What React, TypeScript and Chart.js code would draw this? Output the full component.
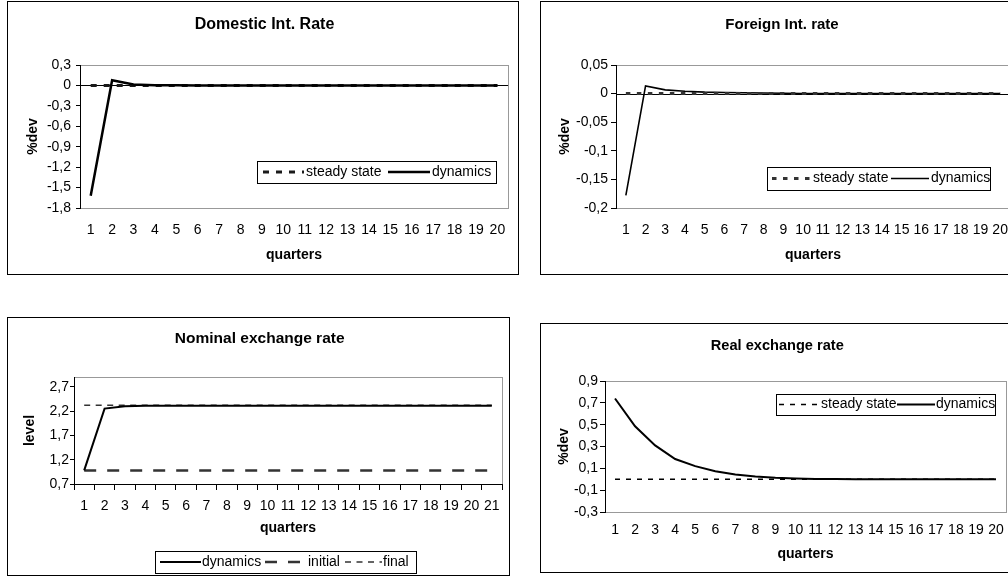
import React, { useEffect, useRef } from 'react';
import { Chart, registerables } from 'chart.js';

Chart.register(...registerables);

const FONT = '"Liberation Sans", Arial, Helvetica, sans-serif';

// ---------- data ----------
const QUARTERS_20 = ['1', '2', '3', '4', '5', '6', '7', '8', '9', '10', '11', '12', '13', '14', '15', '16', '17', '18', '19', '20'];
const QUARTERS_21 = ['1', '2', '3', '4', '5', '6', '7', '8', '9', '10', '11', '12', '13', '14', '15', '16', '17', '18', '19', '20', '21'];

const DOM_STEADY = [0, 0, 0, 0, 0, 0, 0, 0, 0, 0, 0, 0, 0, 0, 0, 0, 0, 0, 0, 0];
const DOM_DYNAMICS = [-1.62, 0.075, 0.015, 0.004, 0.001, 0, 0, 0, 0, 0, 0, 0, 0, 0, 0, 0, 0, 0, 0, 0];
const DOM_Y_TICKS = [-1.8, -1.5, -1.2, -0.9, -0.6, -0.3, 0, 0.3];
const DOM_Y_LABELS = ['-1,8', '-1,5', '-1,2', '-0,9', '-0,6', '-0,3', '0', '0,3'];

const FOR_STEADY = [0, 0, 0, 0, 0, 0, 0, 0, 0, 0, 0, 0, 0, 0, 0, 0, 0, 0, 0, 0];
const FOR_DYNAMICS = [-0.178, 0.0135, 0.0065, 0.004, 0.0025, 0.002, 0.0015, 0.001, 0.0005, 0.0003, 0, 0, 0, 0, 0, 0, 0, 0, 0, 0];
const FOR_Y_TICKS = [-0.2, -0.15, -0.1, -0.05, 0, 0.05];
const FOR_Y_LABELS = ['-0,2', '-0,15', '-0,1', '-0,05', '0', '0,05'];

const NOM_DYNAMICS = [0.98, 2.25, 2.3, 2.31, 2.31, 2.31, 2.31, 2.31, 2.31, 2.31, 2.31, 2.31, 2.31, 2.31, 2.31, 2.31, 2.31, 2.31, 2.31, 2.31, 2.31];
const NOM_INITIAL = [0.98, 0.98, 0.98, 0.98, 0.98, 0.98, 0.98, 0.98, 0.98, 0.98, 0.98, 0.98, 0.98, 0.98, 0.98, 0.98, 0.98, 0.98, 0.98, 0.98, 0.98];
const NOM_FINAL = [2.32, 2.32, 2.32, 2.32, 2.32, 2.32, 2.32, 2.32, 2.32, 2.32, 2.32, 2.32, 2.32, 2.32, 2.32, 2.32, 2.32, 2.32, 2.32, 2.32, 2.32];
const NOM_Y_TICKS = [0.7, 1.2, 1.7, 2.2, 2.7];
const NOM_Y_LABELS = ['0,7', '1,2', '1,7', '2,2', '2,7'];

const REAL_STEADY = [0, 0, 0, 0, 0, 0, 0, 0, 0, 0, 0, 0, 0, 0, 0, 0, 0, 0, 0, 0];
const REAL_DYNAMICS = [0.74, 0.485, 0.31, 0.185, 0.12, 0.074, 0.043, 0.025, 0.013, 0.007, 0.003, 0.002, 0.001, 0, 0, 0, 0, 0, 0, 0];
const REAL_Y_TICKS = [-0.3, -0.1, 0.1, 0.3, 0.5, 0.7, 0.9];
const REAL_Y_LABELS = ['-0,3', '-0,1', '0,1', '0,3', '0,5', '0,7', '0,9'];

// ---------- panel layout specs ----------
type LegendItem = { ds: number; x1: number; x2: number; tx: number };
type Spec = {
  key: string;
  box: [number, number, number, number];
  labels: string[];
  datasets: any[];
  yMin: number; yMax: number; yTicks: number[]; yLabels: string[]; yTitle: string;
  yW: number; padRight: number; padTop: number; xH: number;
  yTickLen: number; yTickPad: number; yTitlePad: number;
  xAxisBlack: boolean; xTickLen: number; xTickPad: number; xTitlePad: number;
  zeroLine: boolean;
  title: string; titleSize: number; titleX: number; titleY: number;
  legend: { box: [number, number, number, number]; cy: number; items: LegendItem[] };
};

const line = (label: string, data: number[], color: string, width: number, dash: number[] = [], order = 0) => ({
  label, data, borderColor: color, backgroundColor: color, borderWidth: width, borderDash: dash,
  pointRadius: 0, tension: 0, fill: false, order,
});

const SPECS: Spec[] = [
  {
    key: 'dom',
    box: [7, 1, 512, 274],
    labels: QUARTERS_20,
    datasets: [
      line('steady state', DOM_STEADY, '#1a1a1a', 3, [6, 7], 1),
      line('dynamics', DOM_DYNAMICS, '#000', 2.5, [], 0),
    ],
    yMin: -1.8, yMax: 0.3, yTicks: DOM_Y_TICKS, yLabels: DOM_Y_LABELS, yTitle: '%dev',
    yW: 73, padRight: 9, padTop: 64, xH: 67,
    yTickLen: 4, yTickPad: 5, yTitlePad: 17.6,
    xAxisBlack: false, xTickLen: 0, xTickPad: 13.6, xTitlePad: 11.6,
    zeroLine: true,
    title: 'Domestic Int. Rate', titleSize: 16, titleX: 257.5, titleY: 28.3,
    legend: {
      box: [250, 160, 239, 22], cy: 171,
      items: [
        { ds: 0, x1: 256, x2: 297, tx: 299 },
        { ds: 1, x1: 381, x2: 423, tx: 425 },
      ],
    },
  },
  {
    key: 'for',
    box: [540, 1, 484, 274],
    labels: QUARTERS_20,
    datasets: [
      line('steady state', FOR_STEADY, '#333', 3, [4.5, 6.5], 0),
      line('dynamics', FOR_DYNAMICS, '#000', 1.6, [], 1),
    ],
    yMin: -0.2, yMax: 0.05, yTicks: FOR_Y_TICKS, yLabels: FOR_Y_LABELS, yTitle: '%dev',
    yW: 76, padRight: 14, padTop: 64, xH: 67,
    yTickLen: 5, yTickPad: 3, yTitlePad: 16.6,
    xAxisBlack: false, xTickLen: 0, xTickPad: 13.4, xTitlePad: 11.6,
    zeroLine: true,
    title: 'Foreign Int. rate', titleSize: 15, titleX: 242, titleY: 28.3,
    legend: {
      box: [227, 166, 223, 23], cy: 177.5,
      items: [
        { ds: 0, x1: 232, x2: 271, tx: 273 },
        { ds: 1, x1: 351, x2: 389, tx: 391 },
      ],
    },
  },
  {
    key: 'nom',
    box: [7, 317, 503, 259],
    labels: QUARTERS_21,
    datasets: [
      line('dynamics', NOM_DYNAMICS, '#000', 2, [], 0),
      line('initial', NOM_INITIAL, '#333', 2.5, [12, 11], 1),
      line('final', NOM_FINAL, '#333', 1.5, [6, 5.5], 2),
    ],
    yMin: 0.7, yMax: 2.9, yTicks: NOM_Y_TICKS, yLabels: NOM_Y_LABELS, yTitle: 'level',
    yW: 67, padRight: 8, padTop: 60, xH: 92,
    yTickLen: 4, yTickPad: 1, yTitlePad: 15.1,
    xAxisBlack: true, xTickLen: 6, xTickPad: 7.6, xTitlePad: 39.1,
    zeroLine: false,
    title: 'Nominal exchange rate', titleSize: 15.5, titleX: 252.7, titleY: 26.3,
    legend: {
      box: [148, 234, 261, 22], cy: 245,
      items: [
        { ds: 0, x1: 153, x2: 194, tx: 195 },
        { ds: 1, x1: 258, x2: 299, tx: 301 },
        { ds: 2, x1: 338, x2: 375, tx: 376 },
      ],
    },
  },
  {
    key: 'real',
    box: [540, 323, 476, 250],
    labels: QUARTERS_20,
    datasets: [
      line('steady state', REAL_STEADY, '#000', 1.5, [5, 6], 0),
      line('dynamics', REAL_DYNAMICS, '#000', 2, [], 1),
    ],
    yMin: -0.3, yMax: 0.9, yTicks: REAL_Y_TICKS, yLabels: REAL_Y_LABELS, yTitle: '%dev',
    yW: 65, padRight: 10, padTop: 58, xH: 61,
    yTickLen: 5, yTickPad: 2, yTitlePad: 15.6,
    xAxisBlack: false, xTickLen: 0, xTickPad: 9.6, xTitlePad: 10.6,
    zeroLine: false,
    title: 'Real exchange rate', titleSize: 14.6, titleX: 237.3, titleY: 27,
    legend: {
      box: [236, 71, 219, 21], cy: 81.5,
      items: [
        { ds: 0, x1: 239, x2: 279, tx: 281 },
        { ds: 1, x1: 357, x2: 395, tx: 396 },
      ],
    },
  },
];

// ---------- plugin: frame, title, zero line, boxed legend ----------
const decorPlugin = {
  id: 'panelDecor',
  beforeDraw(chart: any, _args: any, opts: any) {
    const { ctx, chartArea: a } = chart;
    ctx.save();
    ctx.strokeStyle = '#999';
    ctx.lineWidth = 1;
    const l = Math.round(a.left) + 0.5;
    const t = Math.round(a.top) + 0.5;
    const r = Math.round(a.right) + 0.5;
    const b = Math.round(a.bottom) + 0.5;
    ctx.strokeRect(l, t, r - l, b - t);
    ctx.fillStyle = '#000';
    ctx.font = `bold ${opts.titleSize}px ${FONT}`;
    ctx.textAlign = 'center';
    ctx.textBaseline = 'alphabetic';
    ctx.fillText(opts.title, opts.titleX, opts.titleY);
    ctx.restore();
  },
  beforeDatasetsDraw(chart: any, _args: any, opts: any) {
    if (!opts.zeroLine) return;
    const { ctx, chartArea: a } = chart;
    const y = Math.round(chart.scales.y.getPixelForValue(0)) + 0.5;
    ctx.save();
    ctx.strokeStyle = '#000';
    ctx.lineWidth = 1;
    ctx.beginPath();
    ctx.moveTo(a.left, y);
    ctx.lineTo(a.right, y);
    ctx.stroke();
    ctx.restore();
  },
  afterDraw(chart: any, _args: any, opts: any) {
    const L = opts.legend;
    if (!L) return;
    const { ctx } = chart;
    const [x, y, w, h] = L.box;
    ctx.save();
    ctx.fillStyle = '#fff';
    ctx.fillRect(x, y, w, h);
    ctx.strokeStyle = '#000';
    ctx.lineWidth = 1;
    ctx.strokeRect(x + 0.5, y + 0.5, w, h);
    ctx.font = `14px ${FONT}`;
    ctx.textAlign = 'left';
    ctx.textBaseline = 'middle';
    for (const it of L.items) {
      const ds = chart.data.datasets[it.ds];
      ctx.beginPath();
      ctx.setLineDash(ds.borderDash || []);
      ctx.lineWidth = ds.borderWidth;
      ctx.strokeStyle = ds.borderColor;
      ctx.moveTo(it.x1, L.cy);
      ctx.lineTo(it.x2, L.cy);
      ctx.stroke();
      ctx.setLineDash([]);
      ctx.fillStyle = '#000';
      ctx.fillText(ds.label, it.tx, L.cy);
    }
    ctx.restore();
  },
};

function Panel({ spec }: { spec: Spec }) {
  const ref = useRef<HTMLCanvasElement | null>(null);
  useEffect(() => {
    if (!ref.current) return;
    const s = spec;
    const chart = new Chart(ref.current, {
      type: 'line',
      data: { labels: s.labels, datasets: s.datasets },
      plugins: [decorPlugin],
      options: {
        animation: false,
        responsive: false,
        maintainAspectRatio: false,
        events: [],
        layout: { padding: { left: 0, top: s.padTop, right: s.padRight, bottom: 0 } },
        plugins: {
          legend: { display: false },
          title: { display: false },
          tooltip: { enabled: false },
          panelDecor: {
            title: s.title, titleSize: s.titleSize, titleX: s.titleX, titleY: s.titleY,
            zeroLine: s.zeroLine, legend: s.legend,
          },
        } as any,
        scales: {
          x: {
            type: 'category',
            offset: true,
            grid: {
              display: s.xAxisBlack,
              drawOnChartArea: false,
              drawTicks: s.xAxisBlack,
              tickLength: s.xTickLen,
              color: '#000',
              offset: true,
            },
            border: { display: s.xAxisBlack, color: '#000', width: 1 },
            ticks: {
              color: '#000',
              font: { family: FONT, size: 14 },
              padding: s.xTickPad,
              autoSkip: false,
              maxRotation: 0,
              minRotation: 0,
            },
            title: {
              display: true,
              text: 'quarters',
              color: '#000',
              font: { family: FONT, size: 14, weight: 'bold' },
              padding: { top: 0, bottom: s.xTitlePad },
            },
            afterFit: (scale: any) => { scale.height = s.xH; },
          },
          y: {
            type: 'linear',
            min: s.yMin,
            max: s.yMax,
            grid: {
              display: true,
              drawOnChartArea: false,
              drawTicks: true,
              tickLength: s.yTickLen,
              color: '#000',
            },
            border: { display: true, color: '#000', width: 1 },
            ticks: {
              color: '#000',
              font: { family: FONT, size: 14 },
              padding: s.yTickPad,
              callback: (_v: any, i: number) => s.yLabels[i],
            },
            afterBuildTicks: (scale: any) => {
              scale.ticks = s.yTicks.map((v) => ({ value: v }));
            },
            title: {
              display: true,
              text: s.yTitle,
              color: '#000',
              font: { family: FONT, size: 14, weight: 'bold' },
              padding: { top: s.yTitlePad, bottom: 0 },
            },
            afterFit: (scale: any) => { scale.width = s.yW; },
          },
        },
      } as any,
    });
    return () => chart.destroy();
  }, [spec]);

  const [bx, by, bw, bh] = spec.box;
  return (
    <div style={{ position: 'absolute', left: bx, top: by, width: bw, height: bh }}>
      <canvas ref={ref} width={bw} height={bh} style={{ position: 'absolute', left: 0, top: 0, width: bw, height: bh }} />
      <div style={{ position: 'absolute', left: 0, top: 0, width: bw, height: bh, border: '1px solid #000', boxSizing: 'border-box', pointerEvents: 'none' }} />
    </div>
  );
}

export default function App() {
  return (
    <div style={{ position: 'absolute', left: 0, top: 0, width: 1008, height: 577, overflow: 'hidden', background: '#fff' }}>
      {SPECS.map((s) => <Panel key={s.key} spec={s} />)}
    </div>
  );
}
